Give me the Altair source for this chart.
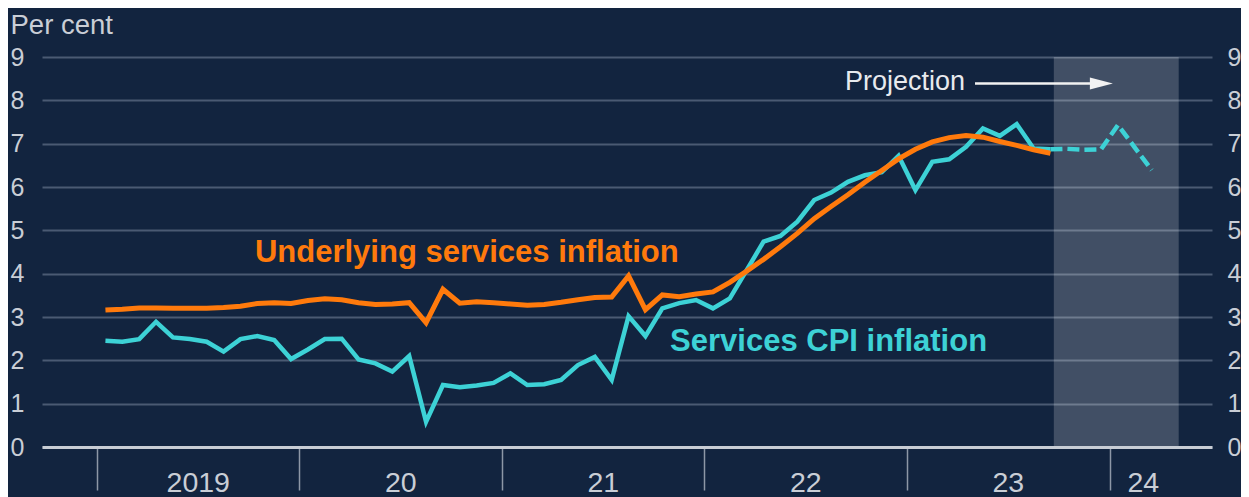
import altair as alt
import pandas as pd

# ---------------- data ----------------
first_month = "2019-01"
services_cpi = [
    2.45, 2.43, 2.49, 2.89, 2.53, 2.49, 2.43, 2.20, 2.49, 2.56, 2.47, 2.03,
    2.25, 2.49, 2.50, 2.02, 1.93, 1.74, 2.10, 0.58, 1.43, 1.38, 1.42, 1.48,
    1.70, 1.43, 1.45, 1.55, 1.89, 2.08, 1.55, 3.02, 2.56, 3.20, 3.32, 3.39,
    3.20, 3.43, 4.08, 4.74, 4.87, 5.20, 5.70, 5.87, 6.12, 6.27, 6.34, 6.72,
    5.93, 6.58, 6.64, 6.93, 7.35, 7.18, 7.45, 6.89, 6.87,
]
underlying_services = [
    3.16, 3.18, 3.21, 3.21, 3.20, 3.20, 3.20, 3.22, 3.25, 3.31, 3.33, 3.31,
    3.38, 3.42, 3.40, 3.33, 3.29, 3.30, 3.33, 2.87, 3.64, 3.32, 3.35, 3.33,
    3.30, 3.27, 3.29, 3.34, 3.40, 3.45, 3.46, 3.95, 3.17, 3.51, 3.47, 3.53,
    3.58, 3.80, 4.06, 4.33, 4.62, 4.93, 5.27, 5.55, 5.82, 6.11, 6.38, 6.65,
    6.87, 7.04, 7.14, 7.19, 7.15, 7.05, 6.96, 6.86, 6.78,
]
projection_months = ["2023-09", "2023-10", "2023-11", "2023-12", "2024-01", "2024-02", "2024-03"]
projection_values = [6.87, 6.88, 6.86, 6.87, 7.43, 6.91, 6.39]

year_labels = ["2019", "20", "21", "22", "23", "24"]
year_label_months = [6, 18, 30, 42, 54, 62]        # months since Jan 2019
year_boundaries = [0, 12, 24, 36, 48, 60]
y_ticks = [0, 1, 2, 3, 4, 5, 6, 7, 8, 9]
projection_shade = [56.7, 64.1]                    # months since Jan 2019

series_labels = ["Underlying services inflation", "Services CPI inflation"]
series_label_x = [9.36, 33.96]
series_label_y = [4.27, 2.22]

projection_text = "Projection"
projection_text_pos = [51.44, 8.24]
arrow_from_to = [52.03, 58.96]
arrow_head_x = 59.52
arrow_y = 8.39

# ---------------- styling ----------------
BG = "#12243f"
ORANGE = "#ff7a0c"
CYAN = "#3dd2d6"
TEXT = "#c9ced6"
GRID = "#4a5a73"
FONT = "Liberation Sans"


def month_index(ym):
    y, m = map(int, ym.split("-"))
    return (y - 2019) * 12 + (m - 1) + 0.5


hist_months = list(pd.period_range(first_month, periods=len(services_cpi), freq="M").strftime("%Y-%m"))

df_cpi = pd.DataFrame({"m": [month_index(s) for s in hist_months], "v": services_cpi})
df_und = pd.DataFrame({"m": [month_index(s) for s in hist_months], "v": underlying_services})
df_proj = pd.DataFrame({"m": [month_index(s) for s in projection_months], "v": projection_values})
df_shade = pd.DataFrame({"x": [projection_shade[0]], "x2": [projection_shade[1]], "y": [0], "y2": [9]})
df_years = pd.DataFrame({"m": year_label_months, "label": year_labels})
df_series = pd.DataFrame({"x": series_label_x, "y": series_label_y, "label": series_labels})
df_projtext = pd.DataFrame({"x": [projection_text_pos[0]], "y": [projection_text_pos[1]], "label": [projection_text]})
df_arrow = pd.DataFrame({"x": [arrow_from_to[0]], "x2": [arrow_from_to[1]], "y": [arrow_y]})
df_head = pd.DataFrame({"x": [arrow_head_x], "y": [arrow_y]})

xscale = alt.Scale(domain=[-3.259, 66.074], nice=False, zero=False)
yscale = alt.Scale(domain=[0, 9], nice=False, zero=False)

xaxis = alt.Axis(
    values=year_boundaries, labels=False, ticks=True, tickSize=43, tickColor="#8d97a6",
    tickWidth=1.5, domain=True, domainColor="#c8cdd5", domainWidth=3, grid=False,
    title=None, zindex=1,
)

yaxis_left = alt.Axis(
    orient="left", values=y_ticks, domain=False, ticks=False, tickSize=0, labelPadding=18,
    labelFont=FONT, labelFontSize=25, labelColor=TEXT, grid=True, gridColor=GRID, gridWidth=2,
    title="Per cent", titleAngle=0, titleAlign="left", titleBaseline="alphabetic",
    titleX=-32, titleY=-24, titleFont=FONT, titleFontSize=27.5, titleFontWeight="normal",
    titleColor=TEXT,
)
yaxis_right = alt.Axis(
    orient="right", values=y_ticks, domain=False, ticks=False, tickSize=0, labelPadding=15,
    labelFont=FONT, labelFontSize=25, labelColor=TEXT, grid=False, title=None,
)

shade = alt.Chart(df_shade).mark_rect(color="white", opacity=0.2).encode(
    x=alt.X("x:Q", scale=xscale, axis=xaxis),
    x2="x2:Q",
    y=alt.Y("y:Q", scale=yscale, axis=yaxis_left),
    y2="y2:Q",
)

cpi_line = alt.Chart(df_cpi).mark_line(color=CYAN, strokeWidth=4.5).encode(
    x=alt.X("m:Q", scale=xscale, axis=xaxis),
    y=alt.Y("v:Q", scale=yscale, axis=yaxis_right),
)

und_line = alt.Chart(df_und).mark_line(color=ORANGE, strokeWidth=5).encode(
    x=alt.X("m:Q", scale=xscale, axis=xaxis),
    y=alt.Y("v:Q", scale=yscale, axis=None),
)

proj_line = alt.Chart(df_proj).mark_line(color=CYAN, strokeWidth=4.5, strokeDash=[12, 5]).encode(
    x=alt.X("m:Q", scale=xscale, axis=xaxis),
    y=alt.Y("v:Q", scale=yscale, axis=None),
)

series_text = alt.Chart(df_series).mark_text(
    align="left", baseline="alphabetic", font=FONT, fontSize=31, fontWeight="bold"
).encode(
    x=alt.X("x:Q", scale=xscale, axis=xaxis),
    y=alt.Y("y:Q", scale=yscale, axis=None),
    text="label:N",
    color=alt.Color("label:N", scale=alt.Scale(domain=series_labels, range=[ORANGE, CYAN]), legend=None),
)

proj_text = alt.Chart(df_projtext).mark_text(
    align="right", baseline="alphabetic", font=FONT, fontSize=27, color="#e8eaee"
).encode(
    x=alt.X("x:Q", scale=xscale, axis=xaxis),
    y=alt.Y("y:Q", scale=yscale, axis=None),
    text="label:N",
)

arrow = alt.Chart(df_arrow).mark_rule(color="#f2f2f2", strokeWidth=2.5).encode(
    x=alt.X("x:Q", scale=xscale, axis=xaxis),
    x2="x2:Q",
    y=alt.Y("y:Q", scale=yscale, axis=None),
)

head = alt.Chart(df_head).mark_point(
    shape="M-1,-0.52L1,0L-1,0.52Z", size=529, filled=True, color="#f2f2f2", opacity=1
).encode(
    x=alt.X("x:Q", scale=xscale, axis=xaxis),
    y=alt.Y("y:Q", scale=yscale, axis=None),
)

years = alt.Chart(df_years).mark_text(
    align="center", baseline="alphabetic", font=FONT, fontSize=28.5, color=TEXT
).encode(
    x=alt.X("m:Q", scale=xscale, axis=xaxis),
    y=alt.value(435),
    text="label:N",
)

chart = alt.layer(
    shade, cpi_line, und_line, proj_line, series_text, proj_text, arrow, head, years
).resolve_axis(y="independent").properties(
    width=1170,
    height=390,
    autosize=alt.AutoSizeParams(type="none"),
    padding={"left": 34, "top": 49, "right": 29, "bottom": 50},
    background=BG,
).configure_view(stroke=None)

chart.save("out.html", embed_options={"renderer": "svg", "actions": False})
